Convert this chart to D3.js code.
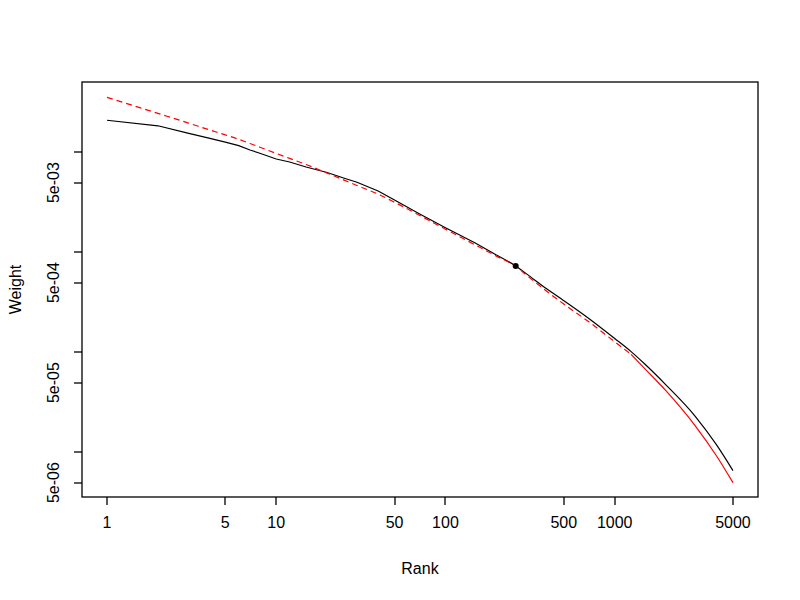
<!DOCTYPE html>
<html>
<head>
<meta charset="utf-8">
<script src="https://d3js.org/d3.v7.min.js"></script>
<style>
  body { margin: 0; background: #fff; }
  text { font-family: "Liberation Sans", Arial, sans-serif; font-size: 16px; fill: #000; }
</style>
</head>
<body>
<div id="chart"></div>
<script>
// ranks where both curves were read
var ranks    = [1, 2, 3, 4, 5, 6, 7, 8, 10, 12, 15, 20, 25, 30, 40, 50, 70, 100, 150, 200,
                260, 300, 400, 500, 700, 1000, 1250, 1500, 2000, 3000, 4000, 5000];
// observed weights (black)
var observed = [2.10e-2, 1.85e-2, 1.56e-2, 1.39e-2, 1.27e-2, 1.17e-2, 1.06e-2, 9.82e-3, 8.61e-3, 8.04e-3,
                7.16e-3, 6.31e-3, 5.56e-3, 5.04e-3, 4.12e-3, 3.35e-3, 2.44e-3, 1.77e-3, 1.245e-3, 9.46e-4,
                7.33e-4, 6.15e-4, 4.28e-4, 3.30e-4, 2.20e-4, 1.38e-4, 1.02e-4, 7.71e-5, 4.78e-5, 2.29e-5,
                1.19e-5, 6.58e-6];
// fitted weights (red)
var fitted   = [3.56e-2, 2.46e-2, 1.98e-2, 1.69e-2, 1.50e-2, 1.355e-2, 1.23e-2, 1.13e-2, 9.80e-3, 8.73e-3,
                7.59e-3, 6.22e-3, 5.32e-3, 4.68e-3, 3.83e-3, 3.18e-3, 2.36e-3, 1.71e-3, 1.19e-3, 9.20e-4,
                7.28e-4, 5.97e-4, 4.05e-4, 3.05e-4, 2.04e-4, 1.28e-4, 9.57e-5, 6.95e-5, 4.18e-5, 1.84e-5,
                9.23e-6, 4.99e-6];
var splitRank = 1250;   // fitted curve dashed up to here, solid after
var markRank = 260;     // highlighted point
var denseRank = 200;    // observed curve is drawn smooth from here on

var xTicks = [1, 5, 10, 50, 100, 500, 1000, 5000];
var yTicks = [1e-2, 5e-3, 1e-3, 5e-4, 1e-4, 5e-5, 1e-5, 5e-6];
var yLabels = ["", "5e-03", "", "5e-04", "", "5e-05", "", "5e-06"];

var width = 800, height = 600;
var plotL = 82, plotR = 758, plotT = 82, plotB = 497;

var svg = d3.select("#chart").append("svg")
    .attr("width", width).attr("height", height);

var x = d3.scaleLog()
    .domain([Math.pow(10, -0.1478), Math.pow(10, 3.8468)])
    .range([plotL, plotR]);
var y = d3.scaleLog()
    .domain([Math.pow(10, -5.445), Math.pow(10, -1.295)])
    .range([plotB, plotT]);

var pts = function(vals) {
    return ranks.map(function(r, i) { return [r, vals[i]]; });
};

var line = d3.line()
    .x(function(d) { return x(d[0]); })
    .y(function(d) { return y(d[1]); });
var smooth = d3.line()
    .x(function(d) { return x(d[0]); })
    .y(function(d) { return y(d[1]); })
    .curve(d3.curveMonotoneX);

// observed: straight segments at low ranks, smooth where data is dense
var obs = pts(observed);
svg.append("path")
    .datum(obs.filter(function(d) { return d[0] <= denseRank; }))
    .attr("d", line)
    .attr("fill", "none")
    .attr("stroke", "#000")
    .attr("stroke-width", 1.2);
svg.append("path")
    .datum(obs.filter(function(d) { return d[0] >= denseRank; }))
    .attr("d", smooth)
    .attr("fill", "none")
    .attr("stroke", "#000")
    .attr("stroke-width", 1.2);

// fitted, dashed then solid
var fit = pts(fitted);
svg.append("path")
    .datum(fit.filter(function(d) { return d[0] <= splitRank; }))
    .attr("d", smooth)
    .attr("fill", "none")
    .attr("stroke", "#ff0000")
    .attr("stroke-width", 1.2)
    .attr("stroke-dasharray", "6,4");
svg.append("path")
    .datum(fit.filter(function(d) { return d[0] >= splitRank; }))
    .attr("d", smooth)
    .attr("fill", "none")
    .attr("stroke", "#ff0000")
    .attr("stroke-width", 1.2);

// highlighted point
svg.append("circle")
    .attr("cx", x(markRank))
    .attr("cy", y(observed[ranks.indexOf(markRank)]))
    .attr("r", 3)
    .attr("fill", "#000");

// box
svg.append("rect")
    .attr("x", plotL).attr("y", plotT)
    .attr("width", plotR - plotL).attr("height", plotB - plotT)
    .attr("fill", "none")
    .attr("stroke", "#000")
    .attr("stroke-width", 1.3);

// x axis
var gx = svg.append("g");
gx.selectAll("line").data(xTicks).enter().append("line")
    .attr("x1", function(d) { return Math.round(x(d)); })
    .attr("x2", function(d) { return Math.round(x(d)); })
    .attr("y1", plotB).attr("y2", plotB + 8)
    .attr("stroke", "#000").attr("stroke-width", 1.3);
gx.selectAll("text").data(xTicks).enter().append("text")
    .attr("x", function(d) { return x(d); })
    .attr("y", 528)
    .attr("text-anchor", "middle")
    .text(function(d) { return d; });

// y axis
var gy = svg.append("g");
gy.selectAll("line").data(yTicks).enter().append("line")
    .attr("y1", function(d) { return Math.round(y(d)); })
    .attr("y2", function(d) { return Math.round(y(d)); })
    .attr("x1", plotL).attr("x2", plotL - 8)
    .attr("stroke", "#000").attr("stroke-width", 1.3);
gy.selectAll("text").data(yTicks).enter().append("text")
    .attr("transform", function(d) { return "translate(59," + y(d) + ") rotate(-90)"; })
    .attr("text-anchor", "middle")
    .text(function(d, i) { return yLabels[i]; });

// axis titles
svg.append("text")
    .attr("x", (plotL + plotR) / 2).attr("y", 574)
    .attr("text-anchor", "middle")
    .text("Rank");
svg.append("text")
    .attr("transform", "translate(21," + (plotT + plotB) / 2 + ") rotate(-90)")
    .attr("text-anchor", "middle")
    .text("Weight");
</script>
</body>
</html>
